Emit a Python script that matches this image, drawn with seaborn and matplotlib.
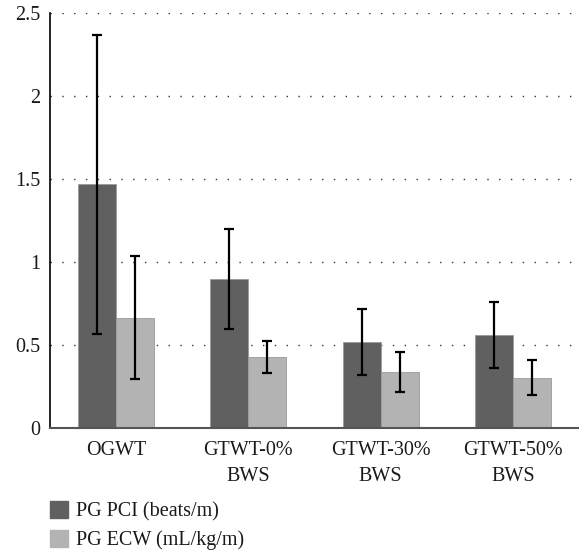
import numpy as np
import pandas as pd
import seaborn as sns
import matplotlib.pyplot as plt
from matplotlib.patches import Patch

categories = ["OGWT", "GTWT-0%\nBWS", "GTWT-30%\nBWS", "GTWT-50%\nBWS"]
series_names = ["PG PCI (beats/m)", "PG ECW (mL/kg/m)"]
pci_mean = [1.47, 0.90, 0.52, 0.56]
pci_err = [0.90, 0.30, 0.20, 0.20]
ecw_mean = [0.665, 0.43, 0.34, 0.305]
ecw_err = [0.37, 0.095, 0.12, 0.105]
colors = ["#606060", "#b3b3b3"]

sns.set_theme(style="white")
plt.rcParams["font.family"] = "serif"
plt.rcParams["font.serif"] = ["Liberation Serif", "DejaVu Serif"]

df = pd.DataFrame({
    "category": categories * 2,
    "series": [series_names[0]] * 4 + [series_names[1]] * 4,
    "value": pci_mean + ecw_mean,
})

fig = plt.figure(figsize=(5.79, 5.54), dpi=100)
ax = fig.add_axes([0.0864, 0.227, 0.9136, 0.749])

sns.barplot(data=df, x="category", y="value", hue="series", palette=colors,
            width=0.575, errorbar=None, legend=False, ax=ax,
            edgecolor="#9a9a9a", linewidth=0.6)

errs = [pci_err, ecw_err]
means = [pci_mean, ecw_mean]
bar_containers = list(ax.containers)
for i, cont in enumerate(bar_containers):
    xs = [p.get_x() + p.get_width() / 2 for p in cont.patches]
    ax.errorbar(xs, means[i], yerr=errs[i], fmt="none", ecolor="black",
                elinewidth=1.6, capsize=3.6, capthick=1.6)

ax.set_ylim(0, 2.5)
ax.set_xlim(-0.5, 3.5)
ax.set_yticks([0, 0.5, 1, 1.5, 2, 2.5])
ax.set_yticklabels(["0", "0.5", "1", "1.5", "2", "2.5"])
ax.set_xlabel("")
ax.set_ylabel("")
ax.tick_params(axis="both", length=0, labelsize=14.5, colors="#1a1a1a")
ax.tick_params(axis="y", pad=7)
ax.tick_params(axis="x", pad=9)
for lab in ax.get_xticklabels() + ax.get_yticklabels():
    lab.set_family("Liberation Serif")
for lab in ax.get_xticklabels():
    lab.set_linespacing(1.5)
ax.yaxis.grid(True, linestyle=(0, (1, 7.5)), color="#333333", linewidth=1)
ax.set_axisbelow(True)
for s in ["top", "right"]:
    ax.spines[s].set_visible(False)
ax.spines["left"].set_color("black")
ax.spines["left"].set_linewidth(1.2)
ax.spines["bottom"].set_color("#555555")
ax.spines["bottom"].set_linewidth(1.5)

handles = [Patch(facecolor=c, edgecolor=c) for c in colors]
leg = fig.legend(handles, series_names, loc="lower left", bbox_to_anchor=(0.086, 0.007),
                 frameon=False, prop={"family": "Liberation Serif", "size": 14.5},
                 handlelength=0.9, handleheight=0.9,
                 handletextpad=0.4, labelspacing=0.42, borderpad=0, borderaxespad=0)
for t in leg.get_texts():
    t.set_color("#1a1a1a")

fig.savefig("out.png", dpi=100)
